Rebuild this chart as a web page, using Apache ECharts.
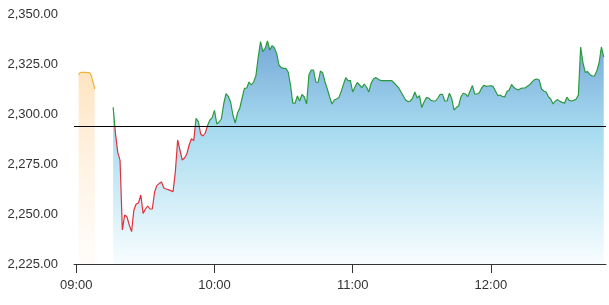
<!DOCTYPE html>
<html>
<head>
<meta charset="utf-8">
<script src="https://cdn.jsdelivr.net/npm/echarts@6/dist/echarts.min.js"></script>
<style>
  html, body { margin: 0; padding: 0; background: #fff; }
  #chart { width: 609px; height: 305px; }
</style>
</head>
<body>
<div id="chart"></div>
<script>
// hour ticks on the time axis
const xTickTimes = ['09:00', '10:00', '11:00', '12:00'];
const yMin = 2225, yMax = 2350, yStep = 25;
const prevClose = 2293.8;

// pre-open auction (orange)
const preTimes = ['09:01', '09:02', '09:03', '09:04', '09:05', '09:06', '09:07', '09:08'];
const preValues = [2319.5, 2320.8, 2320.8, 2320.8, 2320.7, 2320.3, 2317, 2312.5];

// intraday, one value per minute from lineStart
const lineStart = '09:16';
const lineValues = [
  2303.4, 2290.3, 2280.8, 2276.8, 2242, 2249.5, 2248.6, 2244.5, 2241.2, 2252,
  2255, 2255.5, 2259.5, 2250.3, 2252.5, 2254, 2252.5, 2252.5, 2261, 2264.3,
  2265.2, 2266, 2263, 2262.5, 2262.2, 2261.7, 2261.2, 2271, 2287, 2282,
  2277, 2278, 2280, 2284.5, 2287.6, 2286.7, 2297.8, 2296.2, 2290, 2289,
  2290.5, 2294.2, 2297, 2298.2, 2301.8, 2295, 2296, 2297.5, 2305, 2310.2,
  2308.8, 2306, 2299.5, 2295.5, 2300.5, 2303, 2308, 2312.8, 2313, 2316,
  2314.5, 2316, 2319.2, 2328.5, 2336.2, 2331.2, 2332.8, 2336.5, 2332, 2334.2,
  2333.2, 2330.2, 2324.5, 2323.2, 2322.8, 2322.8, 2321, 2314.5, 2305.4, 2305.4,
  2309, 2306.5, 2309.8, 2308.5, 2305, 2319.5, 2322, 2322, 2316, 2315.8,
  2321.5, 2320.5, 2316, 2312.5, 2308.5, 2305, 2307, 2307.5, 2308.2, 2311.2,
  2314.8, 2318.2, 2316.7, 2316.7, 2311, 2313.5, 2315.8, 2314.5, 2313.2, 2315,
  2313.5, 2311, 2315.4, 2317.5, 2318.2, 2317.5, 2316.8, 2316.7, 2316.7, 2316.7,
  2316.7, 2316.7, 2315.5, 2314.3, 2313, 2311, 2309, 2307, 2306.2, 2306.5,
  2307.8, 2311, 2308, 2309.2, 2303.2, 2306, 2308.2, 2308, 2306.8, 2306.5,
  2306.5, 2308, 2309.8, 2309.8, 2306.5, 2306.5, 2310.4, 2307.8, 2302, 2303.2,
  2304, 2308.5, 2310.4, 2310, 2308.7, 2311.5, 2314.2, 2310, 2310, 2310.6,
  2313, 2314.4, 2313.8, 2314, 2314.1, 2313.8, 2311.5, 2309.2, 2309.5, 2308.8,
  2308.5, 2311.2, 2312, 2314.8, 2313.2, 2312.5, 2312, 2312.8, 2313, 2313.1,
  2314, 2314.8, 2316.2, 2317.2, 2317.5, 2317, 2312.5, 2311.5, 2311, 2308.6,
  2307.5, 2305, 2306.5, 2307.2, 2306.3, 2305.8, 2305.4, 2308.4, 2306.8, 2306.5,
  2306.8, 2307.4, 2309.5, 2333.5, 2325.5, 2320.8, 2321.2, 2319.8, 2319, 2319,
  2321.5, 2325.5, 2333.5, 2328.5
];

// minutes since 09:00
function toMin(t) {
  const [h, m] = t.split(':').map(Number);
  return h * 60 + m - 540;
}
function toTime(v) {
  const tot = v + 540;
  const h = Math.floor(tot / 60), m = tot % 60;
  return String(h).padStart(2, '0') + ':' + String(m).padStart(2, '0');
}

const preData = preTimes.map((t, i) => [toMin(t), preValues[i]]);
const start = toMin(lineStart);
const lineData = lineValues.map((v, i) => [start + i, v]);
const xTicks = xTickTimes.map(toMin);

const FONT = '"Liberation Sans", Arial, sans-serif';

const chart = echarts.init(document.getElementById('chart'), null, { renderer: 'canvas' });
chart.setOption({
  animation: false,
  grid: { left: 74, right: 3, top: 14, bottom: 41 },
  xAxis: {
    type: 'value', min: -1, max: 230,
    splitLine: { show: false },
    axisLine: { lineStyle: { color: '#333', width: 1 } },
    axisTick: { customValues: xTicks, length: 9, lineStyle: { color: '#333' } },
    axisLabel: {
      customValues: xTicks, formatter: v => toTime(v),
      color: '#333', fontSize: 13, fontFamily: FONT, margin: 15,
    },
  },
  yAxis: {
    type: 'value', min: yMin, max: yMax, interval: yStep,
    splitLine: { show: false },
    axisLine: { show: false },
    axisTick: { show: false },
    axisLabel: {
      color: '#333', fontSize: 13, fontFamily: FONT, margin: 16,
      formatter: v => v.toLocaleString('en-US', { minimumFractionDigits: 2, maximumFractionDigits: 2 }),
    },
  },
  visualMap: {
    type: 'piecewise', show: false, seriesIndex: 1, dimension: 1,
    pieces: [
      { gte: yMin - 100, lt: prevClose, color: '#e0323c' },
      { gte: prevClose, lte: yMax + 100, color: '#2b9a3f' },
    ],
    outOfRange: { color: '#2b9a3f' },
  },
  series: [
    {
      type: 'line',
      data: preData,
      smooth: 0.5,
      showSymbol: false,
      lineStyle: { color: '#f2b23a', width: 1.2 },
      itemStyle: { color: '#f2b23a' },
      areaStyle: {
        color: {
          type: 'linear', x: 0, y: 0, x2: 0, y2: 1,
          colorStops: [
            { offset: 0, color: 'rgba(255, 214, 160, 0.95)' },
            { offset: 1, color: 'rgba(255, 240, 225, 0.3)' },
          ],
        },
      },
      markLine: {
        symbol: 'none', silent: true,
        lineStyle: { type: 'solid', color: '#000', width: 1 },
        label: { show: false },
        data: [{ yAxis: prevClose }],
      },
    },
    {
      type: 'line',
      data: lineData,
      showSymbol: false,
      lineStyle: { width: 1.2 },
      areaStyle: {
        color: {
          type: 'linear', x: 0, y: 0, x2: 0, y2: 1,
          colorStops: [
            { offset: 0, color: '#3c83c6' },
            { offset: 0.4, color: '#80cbe8' },
            { offset: 1, color: '#f4fcfe' },
          ],
        },
      },
    },
  ],
});
</script>
</body>
</html>
